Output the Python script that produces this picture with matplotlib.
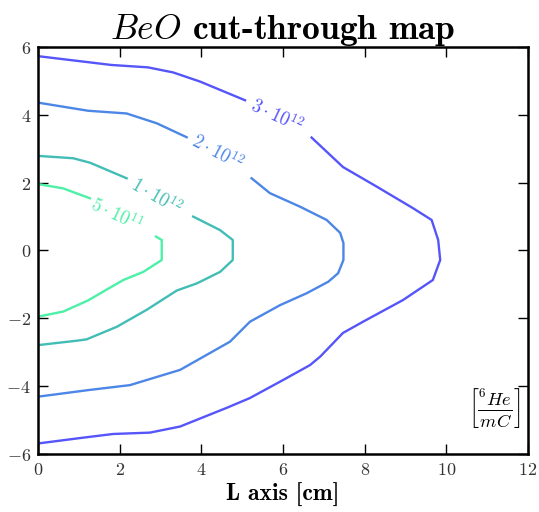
import matplotlib
matplotlib.use("Agg")
import matplotlib.pyplot as plt
from matplotlib.ticker import FuncFormatter

plt.rcParams["mathtext.fontset"] = "cm"

# contour levels: (L [cm], transverse [cm]) points
levels = [3e12, 2e12, 1e12, 5e11]
level_labels = [r"$3\cdot10^{12}$", r"$2\cdot10^{12}$", r"$1\cdot10^{12}$", r"$5\cdot10^{11}$"]
colors = ["#5555fa", "#4c86e6", "#42bdb6", "#4cf0a6"]

# each contour is split in two pieces where the inline label sits
c3_top_x = [0.00, 1.80, 2.69, 3.31, 3.97, 5.07]
c3_top_y = [5.73, 5.47, 5.40, 5.25, 4.98, 4.43]
c3_rest_x = [6.70, 7.47, 8.30, 9.18, 9.64, 9.80, 9.85, 9.67, 8.94, 7.96, 7.47, 6.91,
             6.66, 6.00, 5.19, 4.62, 3.48, 2.74, 1.84, 1.03, 0.00]
c3_rest_y = [3.33, 2.46, 1.88, 1.25, 0.90, 0.31, -0.28, -0.87, -1.46, -2.10, -2.43, -3.13,
             -3.38, -3.82, -4.35, -4.64, -5.19, -5.37, -5.41, -5.53, -5.69]

c2_top_x = [0.00, 1.23, 2.17, 2.91, 3.64]
c2_top_y = [4.36, 4.12, 4.04, 3.75, 3.34]
c2_rest_x = [5.23, 5.68, 6.42, 7.07, 7.40, 7.48, 7.48, 7.35, 7.11, 6.58, 5.93, 5.19,
             4.70, 3.48, 2.25, 1.27, 0.00]
c2_rest_y = [2.13, 1.69, 1.29, 0.90, 0.52, 0.22, -0.28, -0.67, -0.92, -1.26, -1.61, -2.10,
             -2.69, -3.52, -3.97, -4.11, -4.31]

c1_top_x = [0.00, 0.86, 1.27, 2.17]
c1_top_y = [2.79, 2.72, 2.59, 2.13]
c1_rest_x = [3.80, 4.46, 4.77, 4.77, 4.46, 3.89, 3.40, 2.66, 1.93, 1.19, 0.95, 0.00]
c1_rest_y = [1.00, 0.60, 0.31, -0.28, -0.63, -0.97, -1.18, -1.75, -2.25, -2.62, -2.66, -2.79]

c05_top_x = [0.00, 0.62, 1.27]
c05_top_y = [1.96, 1.83, 1.54]
c05_rest_x = [2.89, 3.03, 3.03, 2.58, 2.09, 1.60, 1.23, 0.62, 0.00]
c05_rest_y = [0.41, 0.31, -0.28, -0.63, -0.87, -1.21, -1.47, -1.80, -1.95]

# label positions and angles (data coords, degrees)
label_x = [5.85, 4.38, 2.89, 1.91]
label_y = [3.98, 2.90, 1.60, 1.05]
label_rot = [-25, -28, -30, -25]

pieces = [
    [(c3_top_x, c3_top_y), (c3_rest_x, c3_rest_y)],
    [(c2_top_x, c2_top_y), (c2_rest_x, c2_rest_y)],
    [(c1_top_x, c1_top_y), (c1_rest_x, c1_rest_y)],
    [(c05_top_x, c05_top_y), (c05_rest_x, c05_rest_y)],
]

fig = plt.figure(figsize=(5.39, 5.12), dpi=100)
ax = fig.add_axes([0.0705, 0.1133, 0.9091, 0.7949])

for segs, col, lab, lx, ly, rot in zip(pieces, colors, level_labels, label_x, label_y, label_rot):
    for xs, ys in segs:
        ax.plot(xs, ys, color=col, lw=1.7, solid_joinstyle="round")
    ax.text(lx, ly, lab, color=col, fontsize=13.5, rotation=rot, rotation_mode="anchor",
            ha="center", va="center")

ax.text(11.17, -4.64, r"$\left[\frac{^{6}He}{mC}\right]$", fontsize=19,
        ha="center", va="center")

ax.set_xlim(0, 12)
ax.set_ylim(-6, 6)
ax.set_xticks(range(0, 13, 2))
ax.set_yticks(range(-6, 7, 2))
fmt = FuncFormatter(lambda v, p: r"$%d$" % round(v))
ax.xaxis.set_major_formatter(fmt)
ax.yaxis.set_major_formatter(fmt)
ax.tick_params(direction="in", top=True, right=True, length=7, width=1,
               labelsize=13, labelcolor="#333333", pad=5)
for sp in ax.spines.values():
    sp.set_linewidth(1.8)

ax.set_title(r"$BeO$ cut-through map", fontfamily="cmb10", fontsize=25.5, pad=6)
ax.set_xlabel("L axis [cm]", fontfamily="cmb10", fontsize=17, labelpad=3)

fig.savefig("out.png", dpi=100)
